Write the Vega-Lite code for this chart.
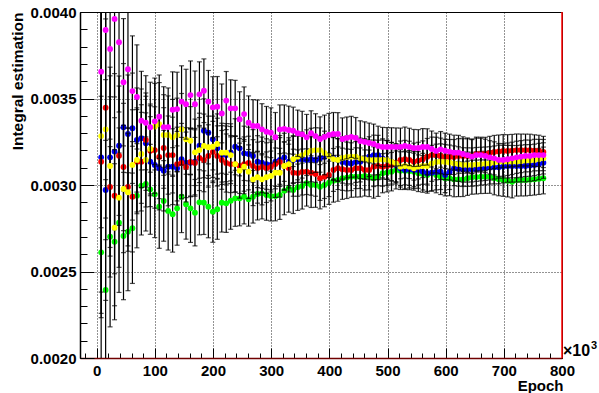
{
"$schema": "https://vega.github.io/schema/vega-lite/v6.json",
"width": 482, "height": 346,
"autosize": {"type": "none"},
"padding": {"left": 80, "top": 12, "right": 37, "bottom": 35},
"background": "white",
"config": {"view": {"stroke": "black", "strokeWidth": 1}, "font": "Liberation Sans",
  "axis": {"labelColor": "black", "titleColor": "black", "tickColor": "black", "labelFont": "Liberation Sans", "titleFont": "Liberation Sans"}},
"datasets": {
"err": [{"x":7.68,"e":0.000902},{"x":15.36,"e":0.000638},{"x":23.04,"e":0.000521},{"x":30.72,"e":0.000451},{"x":38.4,"e":0.000403},{"x":46.08,"e":0.000368},{"x":53.76,"e":0.000341},{"x":61.44,"e":0.000319},{"x":69.12,"e":0.000301},{"x":76.8,"e":0.000285},
{"x":84.48,"e":0.000272},{"x":92.16,"e":0.00026},{"x":99.84,"e":0.00025},{"x":107.52,"e":0.000241},{"x":115.2,"e":0.000233},{"x":122.88,"e":0.000226},{"x":130.56,"e":0.000219},{"x":138.24,"e":0.000213},{"x":145.92,"e":0.000207},{"x":153.6,"e":0.000202},
{"x":161.28,"e":0.000197},{"x":168.96,"e":0.000192},{"x":176.64,"e":0.000188},{"x":184.32,"e":0.000184},{"x":192,"e":0.00018},{"x":199.68,"e":0.000177},{"x":207.36,"e":0.000174},{"x":215.04,"e":0.00017},{"x":222.72,"e":0.000168},{"x":230.4,"e":0.000165},
{"x":238.08,"e":0.000162},{"x":245.76,"e":0.000159},{"x":253.44,"e":0.000157},{"x":261.12,"e":0.000155},{"x":268.8,"e":0.000152},{"x":276.48,"e":0.00015},{"x":284.16,"e":0.000148},{"x":291.84,"e":0.000146},{"x":299.52,"e":0.000144},{"x":307.2,"e":0.000143},
{"x":314.88,"e":0.000141},{"x":322.56,"e":0.000139},{"x":330.24,"e":0.000138},{"x":337.92,"e":0.000136},{"x":345.6,"e":0.000134},{"x":353.28,"e":0.000133},{"x":360.96,"e":0.000132},{"x":368.64,"e":0.00013},{"x":376.32,"e":0.000129},{"x":384,"e":0.000128},
{"x":391.68,"e":0.000126},{"x":399.36,"e":0.000125},{"x":407.04,"e":0.000124},{"x":414.72,"e":0.000123},{"x":422.4,"e":0.000122},{"x":430.08,"e":0.000121},{"x":437.76,"e":0.000119},{"x":445.44,"e":0.000118},{"x":453.12,"e":0.000117},{"x":460.8,"e":0.000116},
{"x":468.48,"e":0.000115},{"x":476.16,"e":0.000115},{"x":483.84,"e":0.000114},{"x":491.52,"e":0.000113},{"x":499.2,"e":0.000112},{"x":506.88,"e":0.000111},{"x":514.56,"e":0.00011},{"x":522.24,"e":0.000109},{"x":529.92,"e":0.000109},{"x":537.6,"e":0.000108},
{"x":545.28,"e":0.000107},{"x":552.96,"e":0.000106},{"x":560.64,"e":0.000106},{"x":568.32,"e":0.000105},{"x":576,"e":0.000104},{"x":583.68,"e":0.000103},{"x":591.36,"e":0.000103},{"x":599.04,"e":0.000102},{"x":606.72,"e":0.000101},{"x":614.4,"e":0.000101},
{"x":622.08,"e":0.0001},{"x":629.76,"e":0.0000996},{"x":637.44,"e":0.000099},{"x":645.12,"e":0.0000984},{"x":652.8,"e":0.0000978},{"x":660.48,"e":0.0000973},{"x":668.16,"e":0.0000967},{"x":675.84,"e":0.0000962},{"x":683.52,"e":0.0000956},{"x":691.2,"e":0.0000951},
{"x":698.88,"e":0.0000946},{"x":706.56,"e":0.000094},{"x":714.24,"e":0.0000935},{"x":721.92,"e":0.000093},{"x":729.6,"e":0.0000925},{"x":737.28,"e":0.0000921},{"x":744.96,"e":0.0000916},{"x":752.64,"e":0.0000911},{"x":760.32,"e":0.0000907},{"x":768,"e":0.0000902}],
"m": [{"x":7.68,"v":0.003655},{"x":15.36,"v":0.003896},{"x":23.04,"v":0.003786},{"x":30.72,"v":0.00396},{"x":38.4,"v":0.003825},{"x":46.08,"v":0.003594},{"x":53.76,"v":0.003669},{"x":61.44,"v":0.003543},{"x":69.12,"v":0.003509},{"x":76.8,"v":0.003372},
{"x":84.48,"v":0.00336},{"x":92.16,"v":0.003334},{"x":99.84,"v":0.003368},{"x":107.52,"v":0.003395},{"x":115.2,"v":0.003335},{"x":122.88,"v":0.003335},{"x":130.56,"v":0.003435},{"x":138.24,"v":0.003439},{"x":145.92,"v":0.003482},{"x":153.6,"v":0.003467},
{"x":161.28,"v":0.00352},{"x":168.96,"v":0.003467},{"x":176.64,"v":0.003524},{"x":184.32,"v":0.003545},{"x":192,"v":0.003482},{"x":199.68,"v":0.003449},{"x":207.36,"v":0.003453},{"x":215.04,"v":0.003414},{"x":222.72,"v":0.003488},{"x":230.4,"v":0.003443},
{"x":238.08,"v":0.003443},{"x":245.76,"v":0.00338},{"x":253.44,"v":0.00341},{"x":261.12,"v":0.00336},{"x":268.8,"v":0.003341},{"x":276.48,"v":0.003341},{"x":284.16,"v":0.003322},{"x":291.84,"v":0.003308},{"x":299.52,"v":0.003302},{"x":307.2,"v":0.003276},
{"x":314.88,"v":0.003322},{"x":322.56,"v":0.003324},{"x":330.24,"v":0.003318},{"x":337.92,"v":0.003314},{"x":345.6,"v":0.003299},{"x":353.28,"v":0.003293},{"x":360.96,"v":0.003276},{"x":368.64,"v":0.003299},{"x":376.32,"v":0.003283},{"x":384,"v":0.003266},
{"x":391.68,"v":0.003278},{"x":399.36,"v":0.003289},{"x":407.04,"v":0.003295},{"x":414.72,"v":0.003295},{"x":422.4,"v":0.003266},{"x":430.08,"v":0.003272},{"x":437.76,"v":0.003278},{"x":445.44,"v":0.003272},{"x":453.12,"v":0.003254},{"x":460.8,"v":0.003249},
{"x":468.48,"v":0.003243},{"x":476.16,"v":0.003237},{"x":483.84,"v":0.003226},{"x":491.52,"v":0.00322},{"x":499.2,"v":0.00322},{"x":506.88,"v":0.00322},{"x":514.56,"v":0.00322},{"x":522.24,"v":0.00322},{"x":529.92,"v":0.003226},{"x":537.6,"v":0.00322},
{"x":545.28,"v":0.003214},{"x":552.96,"v":0.003214},{"x":560.64,"v":0.00322},{"x":568.32,"v":0.00322},{"x":576,"v":0.003208},{"x":583.68,"v":0.003197},{"x":591.36,"v":0.003206},{"x":599.04,"v":0.003198},{"x":606.72,"v":0.003193},{"x":614.4,"v":0.003187},
{"x":622.08,"v":0.003187},{"x":629.76,"v":0.003179},{"x":637.44,"v":0.003173},{"x":645.12,"v":0.003164},{"x":652.8,"v":0.003173},{"x":660.48,"v":0.003173},{"x":668.16,"v":0.003168},{"x":675.84,"v":0.00316},{"x":683.52,"v":0.003154},{"x":691.2,"v":0.003145},
{"x":698.88,"v":0.003145},{"x":706.56,"v":0.003149},{"x":714.24,"v":0.003154},{"x":721.92,"v":0.00316},{"x":729.6,"v":0.003164},{"x":737.28,"v":0.003168},{"x":744.96,"v":0.003168},{"x":752.64,"v":0.003173},{"x":760.32,"v":0.003173},{"x":768,"v":0.003173}],
"r": [{"x":7.68,"v":0.003135},{"x":15.36,"v":0.003447},{"x":23.04,"v":0.002989},{"x":30.72,"v":0.002938},{"x":38.4,"v":0.003169},{"x":46.08,"v":0.003104},{"x":53.76,"v":0.002989},{"x":61.44,"v":0.002932},{"x":69.12,"v":0.003135},{"x":76.8,"v":0.003135},
{"x":84.48,"v":0.00326},{"x":92.16,"v":0.003198},{"x":99.84,"v":0.003202},{"x":107.52,"v":0.003162},{"x":115.2,"v":0.003214},{"x":122.88,"v":0.003173},{"x":130.56,"v":0.003173},{"x":138.24,"v":0.003121},{"x":145.92,"v":0.003127},{"x":153.6,"v":0.003104},
{"x":161.28,"v":0.003133},{"x":168.96,"v":0.003127},{"x":176.64,"v":0.003156},{"x":184.32,"v":0.003145},{"x":192,"v":0.003168},{"x":199.68,"v":0.003191},{"x":207.36,"v":0.003168},{"x":215.04,"v":0.003145},{"x":222.72,"v":0.003127},{"x":230.4,"v":0.003121},
{"x":238.08,"v":0.003121},{"x":245.76,"v":0.00311},{"x":253.44,"v":0.003121},{"x":261.12,"v":0.003127},{"x":268.8,"v":0.00311},{"x":276.48,"v":0.003098},{"x":284.16,"v":0.003104},{"x":291.84,"v":0.003098},{"x":299.52,"v":0.003104},{"x":307.2,"v":0.003121},
{"x":314.88,"v":0.003133},{"x":322.56,"v":0.00311},{"x":330.24,"v":0.003098},{"x":337.92,"v":0.003071},{"x":345.6,"v":0.003069},{"x":353.28,"v":0.003075},{"x":360.96,"v":0.003077},{"x":368.64,"v":0.003071},{"x":376.32,"v":0.003064},{"x":384,"v":0.003039},
{"x":391.68,"v":0.003048},{"x":399.36,"v":0.003058},{"x":407.04,"v":0.003087},{"x":414.72,"v":0.003097},{"x":422.4,"v":0.003091},{"x":430.08,"v":0.003087},{"x":437.76,"v":0.003087},{"x":445.44,"v":0.003097},{"x":453.12,"v":0.003097},{"x":460.8,"v":0.003087},
{"x":468.48,"v":0.003087},{"x":476.16,"v":0.003106},{"x":483.84,"v":0.00311},{"x":491.52,"v":0.003106},{"x":499.2,"v":0.00311},{"x":506.88,"v":0.003116},{"x":514.56,"v":0.003129},{"x":522.24,"v":0.003145},{"x":529.92,"v":0.003149},{"x":537.6,"v":0.003145},
{"x":545.28,"v":0.003135},{"x":552.96,"v":0.003141},{"x":560.64,"v":0.003149},{"x":568.32,"v":0.003164},{"x":576,"v":0.003173},{"x":583.68,"v":0.003173},{"x":591.36,"v":0.003168},{"x":599.04,"v":0.003162},{"x":606.72,"v":0.003162},{"x":614.4,"v":0.003162},
{"x":622.08,"v":0.003168},{"x":629.76,"v":0.003168},{"x":637.44,"v":0.003168},{"x":645.12,"v":0.003168},{"x":652.8,"v":0.003179},{"x":660.48,"v":0.003179},{"x":668.16,"v":0.003179},{"x":675.84,"v":0.003185},{"x":683.52,"v":0.003191},{"x":691.2,"v":0.003194},
{"x":698.88,"v":0.003197},{"x":706.56,"v":0.003197},{"x":714.24,"v":0.003199},{"x":721.92,"v":0.003202},{"x":729.6,"v":0.003202},{"x":737.28,"v":0.003202},{"x":744.96,"v":0.003202},{"x":752.64,"v":0.003199},{"x":760.32,"v":0.003197},{"x":768,"v":0.003191}],
"b": [{"x":7.68,"v":0.00316},{"x":15.36,"v":0.002971},{"x":23.04,"v":0.00316},{"x":30.72,"v":0.003193},{"x":38.4,"v":0.003227},{"x":46.08,"v":0.003334},{"x":53.76,"v":0.003295},{"x":61.44,"v":0.003328},{"x":69.12,"v":0.00326},{"x":76.8,"v":0.00327},
{"x":84.48,"v":0.003241},{"x":92.16,"v":0.003135},{"x":99.84,"v":0.003116},{"x":107.52,"v":0.003097},{"x":115.2,"v":0.003083},{"x":122.88,"v":0.003106},{"x":130.56,"v":0.003106},{"x":138.24,"v":0.003097},{"x":145.92,"v":0.003149},{"x":153.6,"v":0.003129},
{"x":161.28,"v":0.003129},{"x":168.96,"v":0.003135},{"x":176.64,"v":0.003227},{"x":184.32,"v":0.003314},{"x":192,"v":0.003302},{"x":199.68,"v":0.003264},{"x":207.36,"v":0.003212},{"x":215.04,"v":0.003173},{"x":222.72,"v":0.003173},{"x":230.4,"v":0.003189},
{"x":238.08,"v":0.003221},{"x":245.76,"v":0.003212},{"x":253.44,"v":0.003183},{"x":261.12,"v":0.003179},{"x":268.8,"v":0.003168},{"x":276.48,"v":0.003135},{"x":284.16,"v":0.003129},{"x":291.84,"v":0.003121},{"x":299.52,"v":0.003116},{"x":307.2,"v":0.003135},
{"x":314.88,"v":0.003145},{"x":322.56,"v":0.00316},{"x":330.24,"v":0.003135},{"x":337.92,"v":0.003145},{"x":345.6,"v":0.003149},{"x":353.28,"v":0.003149},{"x":360.96,"v":0.003145},{"x":368.64,"v":0.003149},{"x":376.32,"v":0.003145},{"x":384,"v":0.003154},
{"x":391.68,"v":0.003164},{"x":399.36,"v":0.003173},{"x":407.04,"v":0.003156},{"x":414.72,"v":0.003145},{"x":422.4,"v":0.003133},{"x":430.08,"v":0.003127},{"x":437.76,"v":0.003125},{"x":445.44,"v":0.003133},{"x":453.12,"v":0.003135},{"x":460.8,"v":0.00315},
{"x":468.48,"v":0.003164},{"x":476.16,"v":0.003173},{"x":483.84,"v":0.003173},{"x":491.52,"v":0.003154},{"x":499.2,"v":0.003145},{"x":506.88,"v":0.003135},{"x":514.56,"v":0.003116},{"x":522.24,"v":0.003097},{"x":529.92,"v":0.003087},{"x":537.6,"v":0.003091},
{"x":545.28,"v":0.003087},{"x":552.96,"v":0.003087},{"x":560.64,"v":0.003077},{"x":568.32,"v":0.003068},{"x":576,"v":0.003071},{"x":583.68,"v":0.003075},{"x":591.36,"v":0.003077},{"x":599.04,"v":0.003058},{"x":606.72,"v":0.003075},{"x":614.4,"v":0.003097},
{"x":622.08,"v":0.003093},{"x":629.76,"v":0.003091},{"x":637.44,"v":0.003091},{"x":645.12,"v":0.003091},{"x":652.8,"v":0.003093},{"x":660.48,"v":0.003097},{"x":668.16,"v":0.003098},{"x":675.84,"v":0.003102},{"x":683.52,"v":0.003102},{"x":691.2,"v":0.003102},
{"x":698.88,"v":0.003107},{"x":706.56,"v":0.00311},{"x":714.24,"v":0.00311},{"x":721.92,"v":0.00311},{"x":729.6,"v":0.00311},{"x":737.28,"v":0.00311},{"x":744.96,"v":0.003113},{"x":752.64,"v":0.003116},{"x":760.32,"v":0.003121},{"x":768,"v":0.003129}],
"y": [{"x":7.68,"v":0.003283},{"x":15.36,"v":0.003322},{"x":23.04,"v":0.00311},{"x":30.72,"v":0.002753},{"x":38.4,"v":0.002927},{"x":46.08,"v":0.002977},{"x":53.76,"v":0.002958},{"x":61.44,"v":0.003116},{"x":69.12,"v":0.003145},{"x":76.8,"v":0.003179},
{"x":84.48,"v":0.003145},{"x":92.16,"v":0.003208},{"x":99.84,"v":0.003337},{"x":107.52,"v":0.003351},{"x":115.2,"v":0.003289},{"x":122.88,"v":0.003289},{"x":130.56,"v":0.003276},{"x":138.24,"v":0.003289},{"x":145.92,"v":0.003322},{"x":153.6,"v":0.003264},
{"x":161.28,"v":0.003256},{"x":168.96,"v":0.003189},{"x":176.64,"v":0.003202},{"x":184.32,"v":0.003226},{"x":192,"v":0.003218},{"x":199.68,"v":0.003221},{"x":207.36,"v":0.003237},{"x":215.04,"v":0.003187},{"x":222.72,"v":0.003187},{"x":230.4,"v":0.003173},
{"x":238.08,"v":0.003121},{"x":245.76,"v":0.003083},{"x":253.44,"v":0.003106},{"x":261.12,"v":0.003077},{"x":268.8,"v":0.003033},{"x":276.48,"v":0.003045},{"x":284.16,"v":0.003033},{"x":291.84,"v":0.003045},{"x":299.52,"v":0.003052},{"x":307.2,"v":0.003071},
{"x":314.88,"v":0.003071},{"x":322.56,"v":0.00311},{"x":330.24,"v":0.003121},{"x":337.92,"v":0.003149},{"x":345.6,"v":0.003164},{"x":353.28,"v":0.003173},{"x":360.96,"v":0.003187},{"x":368.64,"v":0.003198},{"x":376.32,"v":0.003202},{"x":384,"v":0.003202},
{"x":391.68,"v":0.003185},{"x":399.36,"v":0.003168},{"x":407.04,"v":0.00315},{"x":414.72,"v":0.003145},{"x":422.4,"v":0.003156},{"x":430.08,"v":0.003162},{"x":437.76,"v":0.003164},{"x":445.44,"v":0.003164},{"x":453.12,"v":0.003154},{"x":460.8,"v":0.00315},
{"x":468.48,"v":0.003145},{"x":476.16,"v":0.003145},{"x":483.84,"v":0.003145},{"x":491.52,"v":0.003147},{"x":499.2,"v":0.003145},{"x":506.88,"v":0.003135},{"x":514.56,"v":0.003125},{"x":522.24,"v":0.003106},{"x":529.92,"v":0.00311},{"x":537.6,"v":0.003106},
{"x":545.28,"v":0.003097},{"x":552.96,"v":0.003106},{"x":560.64,"v":0.00311},{"x":568.32,"v":0.00311},{"x":576,"v":0.003125},{"x":583.68,"v":0.003133},{"x":591.36,"v":0.003135},{"x":599.04,"v":0.003133},{"x":606.72,"v":0.00313},{"x":614.4,"v":0.003125},
{"x":622.08,"v":0.003121},{"x":629.76,"v":0.003116},{"x":637.44,"v":0.003116},{"x":645.12,"v":0.003116},{"x":652.8,"v":0.003119},{"x":660.48,"v":0.003121},{"x":668.16,"v":0.003123},{"x":675.84,"v":0.003125},{"x":683.52,"v":0.00313},{"x":691.2,"v":0.003135},
{"x":698.88,"v":0.003135},{"x":706.56,"v":0.003135},{"x":714.24,"v":0.003135},{"x":721.92,"v":0.003135},{"x":729.6,"v":0.003138},{"x":737.28,"v":0.003141},{"x":744.96,"v":0.003142},{"x":752.64,"v":0.003145},{"x":760.32,"v":0.00315},{"x":768,"v":0.003154}],
"g": [{"x":7.68,"v":0.002611},{"x":15.36,"v":0.002393},{"x":23.04,"v":0.002701},{"x":30.72,"v":0.002672},{"x":38.4,"v":0.002782},{"x":46.08,"v":0.002705},{"x":53.76,"v":0.00273},{"x":61.44,"v":0.00275},{"x":69.12,"v":0.002938},{"x":76.8,"v":0.002996},
{"x":84.48,"v":0.003006},{"x":92.16,"v":0.002975},{"x":99.84,"v":0.002946},{"x":107.52,"v":0.002875},{"x":115.2,"v":0.002908},{"x":122.88,"v":0.00285},{"x":130.56,"v":0.002831},{"x":138.24,"v":0.002865},{"x":145.92,"v":0.002932},{"x":153.6,"v":0.002889},
{"x":161.28,"v":0.002865},{"x":168.96,"v":0.00284},{"x":176.64,"v":0.0029},{"x":184.32,"v":0.002898},{"x":192,"v":0.002875},{"x":199.68,"v":0.002846},{"x":207.36,"v":0.00286},{"x":215.04,"v":0.002898},{"x":222.72,"v":0.002894},{"x":230.4,"v":0.002909},
{"x":238.08,"v":0.002923},{"x":245.76,"v":0.002923},{"x":253.44,"v":0.002932},{"x":261.12,"v":0.002917},{"x":268.8,"v":0.002932},{"x":276.48,"v":0.002948},{"x":284.16,"v":0.002952},{"x":291.84,"v":0.002942},{"x":299.52,"v":0.002936},{"x":307.2,"v":0.002936},
{"x":314.88,"v":0.002942},{"x":322.56,"v":0.002967},{"x":330.24,"v":0.002981},{"x":337.92,"v":0.002971},{"x":345.6,"v":0.002987},{"x":353.28,"v":0.002994},{"x":360.96,"v":0.00301},{"x":368.64,"v":0.003},{"x":376.32,"v":0.003},{"x":384,"v":0.00299},
{"x":391.68,"v":0.003},{"x":399.36,"v":0.003013},{"x":407.04,"v":0.003025},{"x":414.72,"v":0.003029},{"x":422.4,"v":0.003039},{"x":430.08,"v":0.003043},{"x":437.76,"v":0.003048},{"x":445.44,"v":0.003048},{"x":453.12,"v":0.003048},{"x":460.8,"v":0.003052},
{"x":468.48,"v":0.003048},{"x":476.16,"v":0.003039},{"x":483.84,"v":0.003048},{"x":491.52,"v":0.003068},{"x":499.2,"v":0.003072},{"x":506.88,"v":0.003077},{"x":514.56,"v":0.003087},{"x":522.24,"v":0.003083},{"x":529.92,"v":0.003083},{"x":537.6,"v":0.003081},
{"x":545.28,"v":0.003077},{"x":552.96,"v":0.003068},{"x":560.64,"v":0.003064},{"x":568.32,"v":0.003058},{"x":576,"v":0.003068},{"x":583.68,"v":0.003058},{"x":591.36,"v":0.003048},{"x":599.04,"v":0.003039},{"x":606.72,"v":0.003039},{"x":614.4,"v":0.003033},
{"x":622.08,"v":0.003033},{"x":629.76,"v":0.003033},{"x":637.44,"v":0.003039},{"x":645.12,"v":0.003045},{"x":652.8,"v":0.003046},{"x":660.48,"v":0.003048},{"x":668.16,"v":0.003048},{"x":675.84,"v":0.003048},{"x":683.52,"v":0.003039},{"x":691.2,"v":0.003033},
{"x":698.88,"v":0.003029},{"x":706.56,"v":0.003025},{"x":714.24,"v":0.003019},{"x":721.92,"v":0.003029},{"x":729.6,"v":0.003029},{"x":737.28,"v":0.003029},{"x":744.96,"v":0.003031},{"x":752.64,"v":0.003033},{"x":760.32,"v":0.003036},{"x":768,"v":0.003039}],
"corner": [{"x":800,"v":0.002,"v2":0.004}]
},
"encoding": {
  "x": {"field": "x", "type": "quantitative",
    "scale": {"domain": [-28.7, 800], "nice": false, "zero": false},
    "axis": {"values": [-20,0,20,40,60,80,100,120,140,160,180,200,220,240,260,280,300,320,340,360,380,400,420,440,460,480,500,520,540,560,580,600,620,640,660,680,700,720,740,760,780,800],
      "format": "d",
      "labelExpr": "datum.value % 100 === 0 ? datum.label : ''",
      "labelFontSize": 15, "labelFontWeight": "bold", "labelPadding": 15, "labelFlush": false, "labelOverlap": false,
      "tickSize": {"condition": {"test": "datum.value % 100 === 0", "value": -10}, "value": -5},
      "tickWidth": 1,
      "domainColor": "#700000", "domainWidth": 1.5,
      "grid": true, "gridColor": "#000000", "gridDash": [1, 2], "gridWidth": 1,
      "gridOpacity": {"condition": {"test": "datum.value % 100 === 0", "value": 0.85}, "value": 0},
      "title": "Epoch", "titleFontSize": 15, "titleFontWeight": "bold", "titleAnchor": "end", "titleAlign": "right",
      "titleX": 483, "titleY": 32, "titleBaseline": "alphabetic"}},
  "y": {"field": "v", "type": "quantitative",
    "scale": {"domain": [0.002, 0.004], "nice": false, "zero": false},
    "axis": {"values": [0.002,0.0021,0.0022,0.0023,0.0024,0.0025,0.0026,0.0027,0.0028,0.0029,0.003,0.0031,0.0032,0.0033,0.0034,0.0035,0.0036,0.0037,0.0038,0.0039,0.004],
      "labelExpr": "abs(datum.value*2000 - round(datum.value*2000)) < 0.001 ? format(datum.value, '.4f') : ''",
      "labelFontSize": 15, "labelFontWeight": "bold", "labelPadding": 18, "labelFlush": false, "labelOverlap": false,
      "tickSize": {"condition": {"test": "abs(datum.value*2000 - round(datum.value*2000)) < 0.001", "value": -14}, "value": -7},
      "tickWidth": 1,
      "domainColor": "black", "domainWidth": 1.5,
      "grid": true, "gridColor": "#000000", "gridDash": [1, 2], "gridWidth": 1,
      "gridOpacity": {"condition": {"test": "abs(datum.value*2000 - round(datum.value*2000)) < 0.001", "value": 0.85}, "value": 0},
      "title": "Integral estimation", "titleFontSize": 15.5, "titleFontWeight": "bold", "titleAnchor": "end", "titleAlign": "right",
      "titleAngle": -90, "titleX": -63, "titleY": 0, "titleBaseline": "middle"}}
},
"layer": [
  {"data": {"name": "g"}, "transform": [{"lookup": "x", "from": {"data": {"name": "err"}, "key": "x", "fields": ["e"]}}],
   "layer": [
     {"mark": {"type": "errorbar", "ticks": {"size": 5}, "color": "black", "thickness": 1.2, "clip": true}, "encoding": {"yError": {"field": "e"}}},
     {"mark": {"type": "point", "filled": true, "size": 34, "opacity": 1, "color": "#00ff00", "clip": true}}]},
  {"data": {"name": "b"}, "transform": [{"lookup": "x", "from": {"data": {"name": "err"}, "key": "x", "fields": ["e"]}}],
   "layer": [
     {"mark": {"type": "errorbar", "ticks": {"size": 5}, "color": "black", "thickness": 1.2, "clip": true}, "encoding": {"yError": {"field": "e"}}},
     {"mark": {"type": "point", "filled": true, "size": 34, "opacity": 1, "color": "#0000ff", "clip": true}}]},
  {"data": {"name": "r"}, "transform": [{"lookup": "x", "from": {"data": {"name": "err"}, "key": "x", "fields": ["e"]}}],
   "layer": [
     {"mark": {"type": "errorbar", "ticks": {"size": 5}, "color": "black", "thickness": 1.2, "clip": true}, "encoding": {"yError": {"field": "e"}}},
     {"mark": {"type": "point", "filled": true, "size": 34, "opacity": 1, "color": "#ff0000", "clip": true}}]},
  {"data": {"name": "y"}, "transform": [{"lookup": "x", "from": {"data": {"name": "err"}, "key": "x", "fields": ["e"]}}],
   "layer": [
     {"mark": {"type": "errorbar", "ticks": {"size": 5}, "color": "black", "thickness": 1.2, "clip": true}, "encoding": {"yError": {"field": "e"}}},
     {"mark": {"type": "point", "filled": true, "size": 34, "opacity": 1, "color": "#ffff00", "clip": true}}]},
  {"data": {"name": "m"}, "transform": [{"lookup": "x", "from": {"data": {"name": "err"}, "key": "x", "fields": ["e"]}}],
   "layer": [
     {"mark": {"type": "errorbar", "ticks": {"size": 5}, "color": "black", "thickness": 1.2, "clip": true}, "encoding": {"yError": {"field": "e"}}},
     {"mark": {"type": "point", "filled": true, "size": 34, "opacity": 1, "color": "#ff00ff", "clip": true}}]},
  {"data": {"name": "corner"}, "mark": {"type": "rule", "color": "#ff0000", "strokeWidth": 1.5},
   "encoding": {"y2": {"field": "v2"}}},
  {"data": {"name": "corner"}, "mark": {"type": "text", "text": "×10", "align": "left", "baseline": "alphabetic", "dx": 1, "dy": -2, "fontSize": 16, "font": "Liberation Sans", "fontWeight": "bold", "color": "black"}},
  {"data": {"name": "corner"}, "mark": {"type": "text", "text": "3", "align": "left", "baseline": "alphabetic", "dx": 29, "dy": -9, "fontSize": 11, "font": "Liberation Sans", "fontWeight": "bold", "color": "black"}}
]
}
